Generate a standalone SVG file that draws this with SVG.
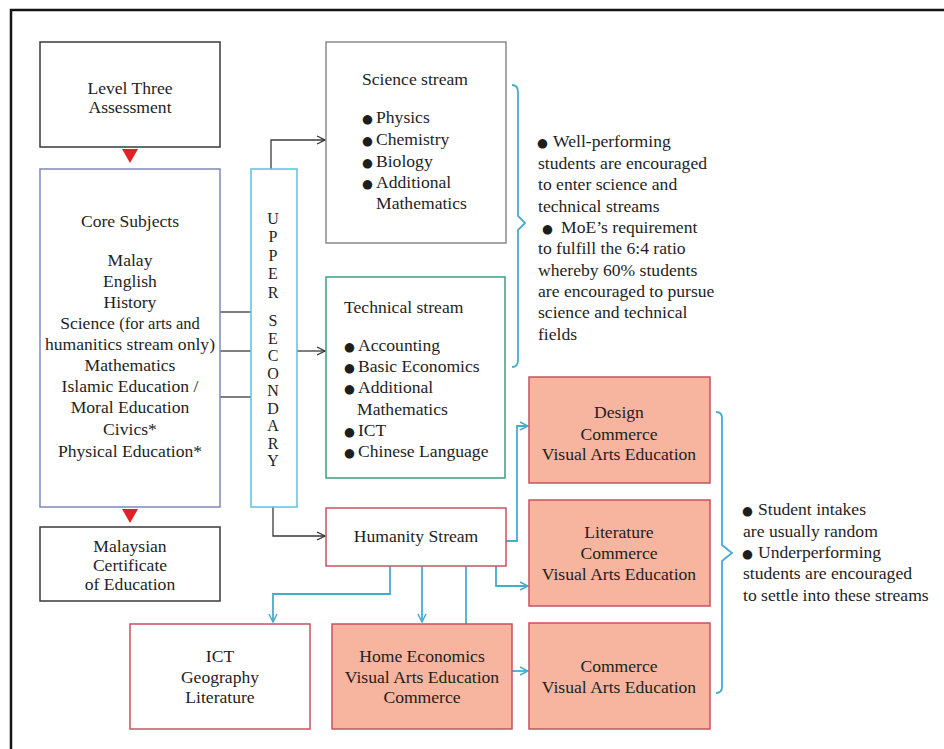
<svg xmlns="http://www.w3.org/2000/svg" width="944" height="749" viewBox="0 0 944 749">
<defs>
<marker id="ah" viewBox="0 0 10 10" refX="9" refY="5" markerWidth="10" markerHeight="10" markerUnits="userSpaceOnUse" orient="auto">
<path d="M1,1 L9,5 L1,9" fill="none" stroke="#333" stroke-width="1.3"/>
</marker>
<marker id="ahb" viewBox="0 0 10 10" refX="9" refY="5" markerWidth="10" markerHeight="10" markerUnits="userSpaceOnUse" orient="auto">
<path d="M1,1 L9,5 L1,9" fill="none" stroke="#45acd0" stroke-width="1.5"/>
</marker>
<style>
text{font-family:"Liberation Serif","Times New Roman",serif;font-size:17.6px;fill:#1e1e1e}
.c{text-anchor:middle}
.b{font-family:"DejaVu Sans",sans-serif;font-size:12.5px}
.v{font-size:16px;text-anchor:middle}
.box{fill:#fff;stroke-width:1.5}
.dark{stroke:#3a3a3a}
.pink{stroke:#c9525f}
.sal{fill:#f7b49f;stroke:#c9525f;stroke-width:1.5}
.dl{fill:none;stroke:#3a3a3a;stroke-width:1.3}
.bl{fill:none;stroke:#45acd0;stroke-width:1.8}
</style>
</defs>
<rect width="944" height="749" fill="#fff"/>
<path d="M11,749 L11,10 L944,10" fill="none" stroke="#151515" stroke-width="2.5"/>

<g id="connectors">
<polygon points="122,149 138,149 130,163" fill="#e21f26"/>
<polygon points="122,509 138,509 130,523" fill="#e21f26"/>
<line class="dl" x1="220" y1="312" x2="251" y2="312"/>
<line class="dl" x1="220" y1="351" x2="251" y2="351"/>
<line class="dl" x1="220" y1="397" x2="251" y2="397"/>
<path class="dl" d="M271,169 L271,140 L325,140" marker-end="url(#ah)"/>
<path class="dl" d="M297,351 L325,351" marker-end="url(#ah)"/>
<path class="dl" d="M273,507 L273,536 L325,536" marker-end="url(#ah)"/>
<path class="bl" d="M506,541 L517,541 L517,426 L528,426" marker-end="url(#ahb)"/>
<path class="bl" d="M496,566 L496,586 L528,586" marker-end="url(#ahb)"/>
<path class="bl" d="M390,566 L390,594 L273,594 L273,622" marker-end="url(#ahb)"/>
<path class="bl" d="M422,566 L422,622" marker-end="url(#ahb)"/>
<path class="bl" d="M466,566 L466,624"/>
<path class="bl" d="M512,671 L528,671" marker-end="url(#ahb)"/>
<path class="bl" d="M512,85 Q518,85 518,92 L518,216 L525,223 L518,230 L518,360 Q518,367 512,367"/>
<path class="bl" d="M716,412 Q722,412 722,418 L722,545 L732,553 L722,561 L722,687 Q722,693 716,693"/>
</g>

<g id="level-three">
<rect class="box dark" x="40" y="42" width="180" height="105"/>
<text class="c" x="130" y="94" font-size="17">Level Three</text>
<text class="c" x="130" y="113" font-size="17">Assessment</text>
</g>

<g id="core-subjects">
<rect class="box" x="40" y="169" width="180" height="338" stroke="#8189b9"/>
<text class="c" x="130" y="227" font-size="18.5">Core Subjects</text>
<text class="c" x="130" y="266">Malay</text>
<text class="c" x="130" y="287">English</text>
<text class="c" x="130" y="308">History</text>
<text class="c" x="130" y="329">Science <tspan font-size="16.5">(for arts and</tspan></text>
<text class="c" x="130" y="350" font-size="16.5">humanitics stream only)</text>
<text class="c" x="130" y="371">Mathematics</text>
<text class="c" x="130" y="392">Islamic Education /</text>
<text class="c" x="130" y="413">Moral Education</text>
<text class="c" x="130" y="435">Civics*</text>
<text class="c" x="130" y="457">Physical Education*</text>
</g>

<g id="malaysian-certificate">
<rect class="box dark" x="40" y="527" width="180" height="74"/>
<text class="c" x="130" y="552" font-size="17">Malaysian</text>
<text class="c" x="130" y="571" font-size="17">Certificate</text>
<text class="c" x="130" y="590" font-size="17">of Education</text>
</g>

<g id="upper-secondary">
<rect class="box" x="251" y="169" width="46" height="338" stroke="#5cc2dc"/>
<text class="v" x="273" y="224">U</text>
<text class="v" x="273" y="242">P</text>
<text class="v" x="273" y="261">P</text>
<text class="v" x="273" y="279">E</text>
<text class="v" x="273" y="298">R</text>
<text class="v" x="273" y="326">S</text>
<text class="v" x="273" y="344">E</text>
<text class="v" x="273" y="361">C</text>
<text class="v" x="273" y="379">O</text>
<text class="v" x="273" y="396">N</text>
<text class="v" x="273" y="414">D</text>
<text class="v" x="273" y="431">A</text>
<text class="v" x="273" y="449">R</text>
<text class="v" x="273" y="466">Y</text>
</g>

<g id="science-stream">
<rect class="box" x="326" y="42" width="180" height="201" stroke="#8a8a8a"/>
<text x="362" y="85">Science stream</text>
<text x="362" y="123"><tspan class="b">●</tspan><tspan x="376">Physics</tspan></text>
<text x="362" y="145"><tspan class="b">●</tspan><tspan x="376">Chemistry</tspan></text>
<text x="362" y="167"><tspan class="b">●</tspan><tspan x="376">Biology</tspan></text>
<text x="362" y="188"><tspan class="b">●</tspan><tspan x="376">Additional</tspan></text>
<text x="376" y="209">Mathematics</text>
</g>

<g id="technical-stream">
<rect class="box" x="326" y="277" width="179" height="201" stroke="#3aa07f"/>
<text x="344" y="313">Technical stream</text>
<text x="344" y="351"><tspan class="b">●</tspan><tspan x="358">Accounting</tspan></text>
<text x="344" y="372"><tspan class="b">●</tspan><tspan x="358">Basic Economics</tspan></text>
<text x="344" y="393"><tspan class="b">●</tspan><tspan x="358">Additional</tspan></text>
<text x="357" y="415">Mathematics</text>
<text x="344" y="436"><tspan class="b">●</tspan><tspan x="358">ICT</tspan></text>
<text x="344" y="457"><tspan class="b">●</tspan><tspan x="358">Chinese Language</tspan></text>
</g>

<g id="humanity-stream">
<rect class="box pink" x="326" y="508" width="180" height="58"/>
<text class="c" x="416" y="542">Humanity Stream</text>
</g>

<g id="ict-geography-literature">
<rect class="box pink" x="130" y="624" width="180" height="105"/>
<text class="c" x="220" y="662">ICT</text>
<text class="c" x="220" y="683">Geography</text>
<text class="c" x="220" y="703">Literature</text>
</g>

<g id="home-economics">
<rect class="sal" x="332" y="624" width="180" height="105"/>
<text class="c" x="422" y="662">Home Economics</text>
<text class="c" x="422" y="683">Visual Arts Education</text>
<text class="c" x="422" y="703">Commerce</text>
</g>

<g id="design">
<rect class="sal" x="529" y="377" width="181" height="106"/>
<text class="c" x="619" y="418">Design</text>
<text class="c" x="619" y="440">Commerce</text>
<text class="c" x="619" y="460">Visual Arts Education</text>
</g>

<g id="literature">
<rect class="sal" x="529" y="500" width="181" height="106"/>
<text class="c" x="619" y="538">Literature</text>
<text class="c" x="619" y="559">Commerce</text>
<text class="c" x="619" y="580">Visual Arts Education</text>
</g>

<g id="commerce">
<rect class="sal" x="529" y="623" width="181" height="106"/>
<text class="c" x="619" y="672">Commerce</text>
<text class="c" x="619" y="693">Visual Arts Education</text>
</g>

<g id="note-science-technical">
<text x="537" y="147"><tspan class="b">●</tspan><tspan x="553">Well-performing</tspan></text>
<text x="538" y="169">students are encouraged</text>
<text x="538" y="190">to enter science and</text>
<text x="538" y="212">technical streams</text>
<text x="542" y="233"><tspan class="b">●</tspan><tspan x="561">MoE’s requirement</tspan></text>
<text x="538" y="254">to fulfill the 6:4 ratio</text>
<text x="538" y="276">whereby 60% students</text>
<text x="538" y="297">are encouraged to pursue</text>
<text x="538" y="318">science and technical</text>
<text x="538" y="340">fields</text>
</g>

<g id="note-humanity">
<text x="742" y="515"><tspan class="b">●</tspan><tspan x="758">Student intakes</tspan></text>
<text x="743" y="537">are usually random</text>
<text x="742" y="558"><tspan class="b">●</tspan><tspan x="758">Underperforming</tspan></text>
<text x="743" y="579">students are encouraged</text>
<text x="743" y="601">to settle into these streams</text>
</g>
</svg>
